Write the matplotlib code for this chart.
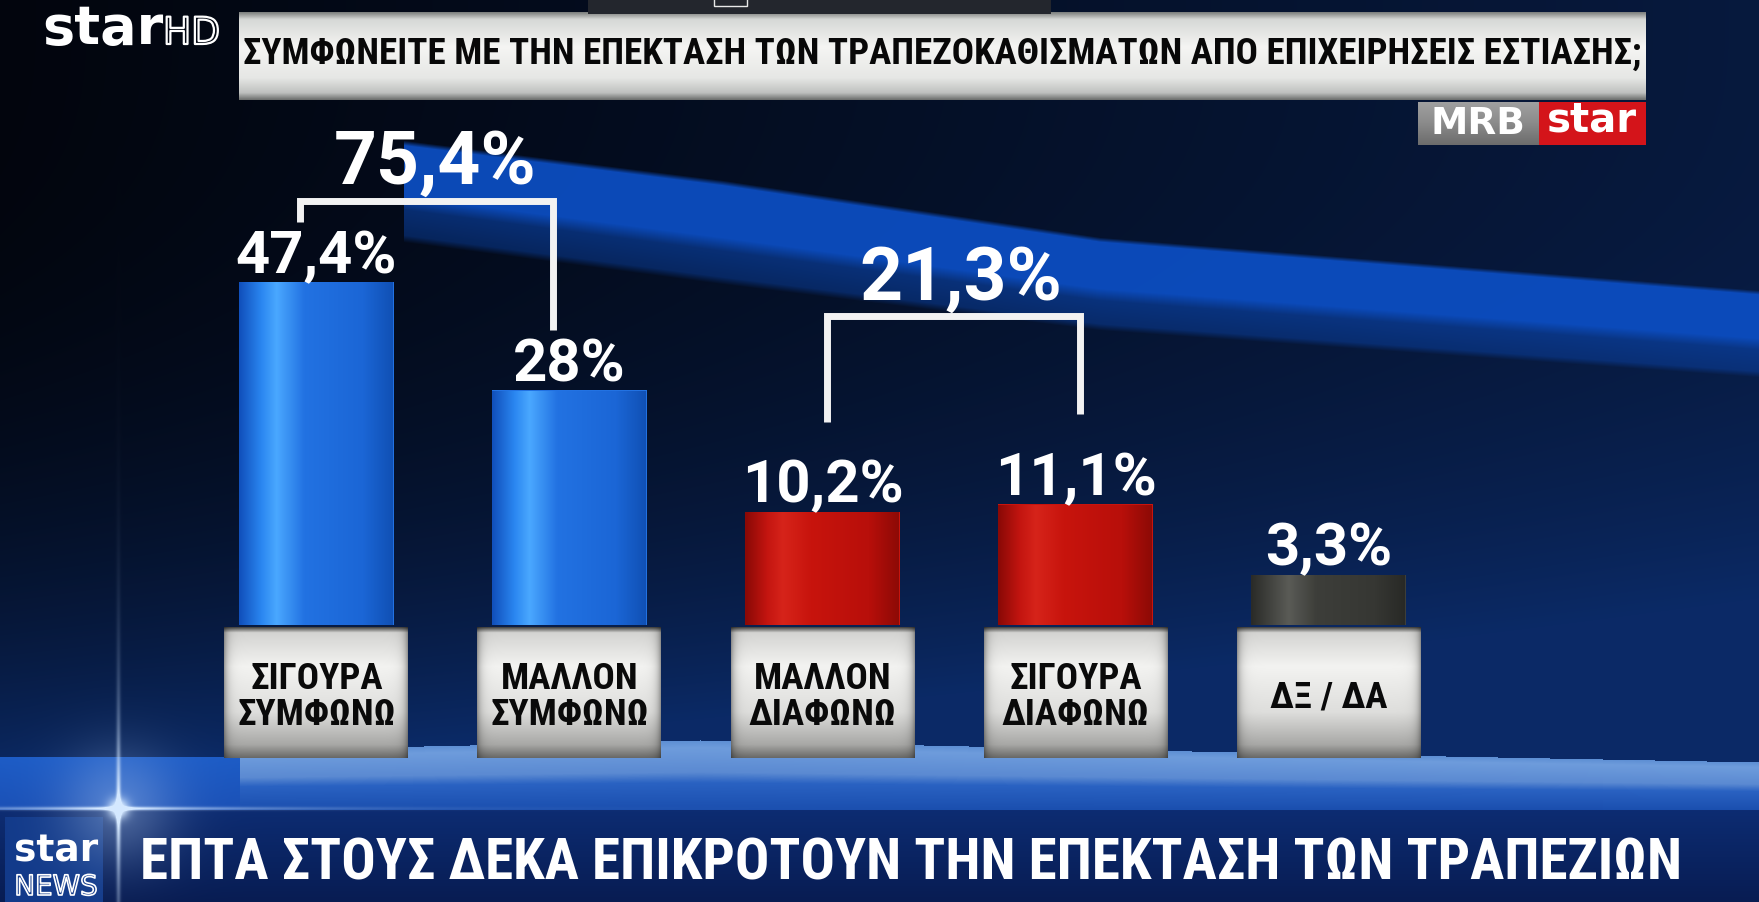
import os
import numpy as np
import matplotlib
matplotlib.use("Agg")
import matplotlib.pyplot as plt
import matplotlib.font_manager as fm
import matplotlib.patheffects as pe
from matplotlib.patches import Rectangle
from matplotlib.colors import to_rgb

# ---------------- data ----------------
categories = ["ΣΙΓΟΥΡΑ\nΣΥΜΦΩΝΩ", "ΜΑΛΛΟΝ\nΣΥΜΦΩΝΩ", "ΜΑΛΛΟΝ\nΔΙΑΦΩΝΩ",
              "ΣΙΓΟΥΡΑ\nΔΙΑΦΩΝΩ", "ΔΞ / ΔΑ"]
values = [47.4, 28.0, 10.2, 11.1, 3.3]
group_members = [[0, 1], [2, 3]]
title_text = ("ΣΥΜΦΩΝΕΙΤΕ ΜΕ ΤΗΝ ΕΠΕΚΤΑΣΗ ΤΩΝ ΤΡΑΠΕΖΟΚΑΘΙΣΜΑΤΩΝ "
              "ΑΠΟ ΕΠΙΧΕΙΡΗΣΕΙΣ ΕΣΤΙΑΣΗΣ;")
ticker_text = "ΕΠΤΑ ΣΤΟΥΣ ΔΕΚΑ ΕΠΙΚΡΟΤΟΥΝ ΤΗΝ ΕΠΕΚΤΑΣΗ ΤΩΝ ΤΡΑΠΕΖΙΩΝ"
source_text = "MRB"
channel_text = "star"

# ---------------- style ----------------
bar_style = ["blue", "blue", "red", "red", "grey"]
palette = {
    "blue": ["#1150bc", "#2a86f0", "#4aa8ff", "#2272e2", "#1b66d6", "#1050b4"],
    "red": ["#8a0906", "#c41510", "#d6241a", "#c8140d", "#b80f0a", "#8c0a06"],
    "grey": ["#2a2b28", "#464743", "#5a5b56", "#3d3e3a", "#363733", "#282926"],
}
bar_stops = [0.0, 0.14, 0.24, 0.42, 0.8, 1.0]

W, H = 1759, 902
DPI = 100


def find_font_file(patterns):
    files = [f.fname for f in fm.fontManager.ttflist]
    for p in patterns:
        for fn in files:
            if p in os.path.basename(fn).lower():
                return fn
    return None


cond_file = find_font_file([
    "notosans-extracondensedbold.", "notosans-extracondensedextrabold.",
    "robotocondensed-bold.", "liberationsansnarrow-bold.",
    "notosans-condensedbold.", "opensans-condensedbold.",
    "dejavusanscondensed-bold.", "dejavusans-boldcondensed",
])
if cond_file:
    COND = fm.FontProperties(fname=cond_file)
else:
    COND = fm.FontProperties(family="DejaVu Sans", weight="bold",
                             stretch="condensed")

NUM = dict(family=["Roboto", "DejaVu Sans"], fontweight="bold")


def hexrgb(c):
    return np.array(to_rgb(c))


def grad1d(colors, stops, n):
    t = np.linspace(0, 1, n)
    cols = np.array([to_rgb(c) for c in colors])
    return np.stack([np.interp(t, stops, cols[:, k]) for k in range(3)], -1)


def fmt(v):
    s = f"{v:.1f}".replace(".", ",")
    if s.endswith(",0"):
        s = s[:-2]
    return s + "%"


fig = plt.figure(figsize=(W / DPI, H / DPI), dpi=DPI)

# ---------------- background image ----------------
bg = fig.add_axes([0, 0, 1, 1], zorder=0)
bg.set_axis_off()
yy, xx = np.mgrid[0:H, 0:W].astype(float)
xcol = np.arange(W, dtype=float)
w = np.clip(0.55 * xx / W + (yy / 780.0) ** 3, 0, 1)
c0, c1 = hexrgb("#02050d"), hexrgb("#0b2a66")
img = c0 + (c1 - c0) * w[..., None]

# diagonal light band
btop = np.interp(xcol, [404, 723, 1100, 1759], [140, 180, 237, 290])
bbot = np.interp(xcol, [404, 723, 1100, 1759], [242, 284, 330, 377])
t = (yy - btop[None, :]) / (bbot - btop)[None, :]
prof = np.interp(t, [-0.01, 0, 0.05, 0.55, 0.68, 0.93, 1.0, 1.01],
                 [0, 0, 1, 1, 0.55, 0.42, 0, 0])
prof[:, :404] = 0
prof *= 0.9
bandc = hexrgb("#0c50c8")
img = img * (1 - prof[..., None]) + bandc * prof[..., None]

# floor
ft = np.interp(xcol, [0, 239, 240, 700, 1236, 1759],
               [757, 757, 750, 740, 752, 762])
s = (yy - ft[None, :]) / (810 - ft)[None, :]
floor_mask = (s >= 0) & (s < 1)
fr = grad1d(["#5e8fd4", "#6e9cdc", "#5b8ad2", "#2a62c2", "#1a4eae"],
            [0, 0.1, 0.45, 0.6, 1.0], 256)
fl = grad1d(["#1d5cc6", "#1a50b6"], [0, 1], 256)
si = np.clip((s * 255).astype(int), 0, 255)
floor_col = np.where((xx < 240)[..., None], fl[si], fr[si])
img = np.where(floor_mask[..., None], floor_col, img)

# ticker band
tk = grad1d(["#0d2c72", "#0a2462", "#081c52"], [0, 0.5, 1], 256)
ti = np.clip(((yy - 810) / (H - 810) * 255).astype(int), 0, 255)
img = np.where((yy >= 810)[..., None], tk[ti], img)
logo_box = (xx >= 5) & (xx < 103) & (yy >= 817)
img = np.where(logo_box[..., None], hexrgb("#123a8a"), img)

# lens flare
r2 = (xx - 118) ** 2 + (yy - 808) ** 2
flare = (0.9 * np.exp(-r2 / (2 * 7 ** 2)) + 0.3 * np.exp(-r2 / (2 * 40 ** 2))
         + 0.85 * np.exp(-((xx - 118) / 2.2) ** 2) * np.exp(-np.abs(yy - 808) / 90)
         + 0.85 * np.exp(-((yy - 808) / 1.8) ** 2) * np.exp(-np.abs(xx - 118) / 140))
flare = np.clip(flare, 0, 1)
img = img * (1 - flare[..., None]) + hexrgb("#d4e8ff") * flare[..., None]

bg.imshow(np.clip(img, 0, 1), extent=(0, W, H, 0), aspect="auto",
          interpolation="bilinear")
bg.set_xlim(0, W)
bg.set_ylim(H, 0)

# ---------------- bar axes ----------------
BAR_BASE_PX, AX_TOP_PX, TALLEST_TOP_PX = 625, 100, 282
AX_LEFT_PX, AX_RIGHT_PX = 190, 1455
ax = fig.add_axes([AX_LEFT_PX / W, (H - BAR_BASE_PX) / H,
                   (AX_RIGHT_PX - AX_LEFT_PX) / W,
                   (BAR_BASE_PX - AX_TOP_PX) / H], zorder=2)
ax.patch.set_alpha(0)
ax.set_axis_off()
P = 0.72
fwd = lambda v: np.sign(v) * np.abs(v) ** P
inv = lambda u: np.sign(u) * np.abs(u) ** (1 / P)
ax.set_yscale("function", functions=(fwd, inv))
xpos = np.arange(len(values))
ymax = float(inv(fwd(max(values)) * (BAR_BASE_PX - AX_TOP_PX)
                 / (BAR_BASE_PX - TALLEST_TOP_PX)))
bars = ax.bar(xpos, values, width=0.61, color=[palette[k][3] for k in bar_style],
              linewidth=0, zorder=2)
for i, p in enumerate(bars.patches):
    g = grad1d(palette[bar_style[i]], bar_stops, 200)[None, :, :]
    im = ax.imshow(g, extent=(p.get_x(), p.get_x() + p.get_width(), 0,
                              p.get_height()),
                   aspect="auto", interpolation="bilinear", zorder=3)
    im.set_clip_path(p)
ax.set_xlim(-0.5, len(values) - 0.5)
ax.set_ylim(0, ymax)


def to_px(x, y):
    dx, dy = ax.transData.transform((x, y))
    return dx, H - dy


# ---------------- foreground axes ----------------
fg = fig.add_axes([0, 0, 1, 1], zorder=3)
fg.patch.set_alpha(0)
fg.set_axis_off()
renderer = fig.canvas.get_renderer()


def fit(tobj, target_w, max_fs):
    bb = tobj.get_window_extent(renderer)
    tobj.set_fontsize(min(tobj.get_fontsize() * target_w / bb.width, max_fs))


# top player bar
fg.add_patch(Rectangle((588, 0), 463, 14, fc="#23262d", ec="none"))
fg.add_patch(Rectangle((714, -2), 33, 8, fc="none", ec="#e8e8e8", lw=1))

# title box
tb = grad1d(["#7d807e", "#d6d8d6", "#f5f5f3", "#e6e7e5", "#bfc1bf", "#6e706e"],
            [0, 0.08, 0.4, 0.75, 0.92, 1.0], 120)[:, None, :]
fg.imshow(tb, extent=(239, 1646, 100, 12), aspect="auto",
          interpolation="bilinear")
tt = fg.text(942, 54, title_text, fontproperties=COND, fontsize=40,
             color="#080808", ha="center", va="center")
fit(tt, 1395, 58)

# MRB / star source badge
mg = grad1d(["#a0a0a0", "#8a8a8a", "#6c6c6c"], [0, 0.5, 1], 60)[:, None, :]
fg.imshow(mg, extent=(1418, 1539, 145, 102), aspect="auto")
fg.add_patch(Rectangle((1539, 102), 107, 43, fc="#d4141a", ec="none"))
fg.text(1478, 124, source_text, color="white", fontsize=27,
        family="DejaVu Sans", fontweight="bold", ha="center", va="center")
fg.text(1592, 121, channel_text, color="white", fontsize=29,
        family="DejaVu Sans", fontweight="bold", ha="center", va="center")

# starHD logo
fg.text(42, 44, "star", color="white", fontsize=39, family="DejaVu Sans",
        fontweight="bold", ha="left", va="baseline")
fg.text(163, 44, "HD", color="none", fontsize=27, family="DejaVu Sans",
        ha="left", va="baseline",
        path_effects=[pe.withStroke(linewidth=1.6, foreground="white")])

# star NEWS logo
fg.text(56, 862, "star", color="white", fontsize=27, family="DejaVu Sans",
        fontweight="bold", ha="center", va="baseline")
fg.text(56, 895, "NEWS", color="none", fontsize=20, family="DejaVu Sans",
        ha="center", va="baseline",
        path_effects=[pe.withStroke(linewidth=1.2, foreground="white")])

# ticker headline
tkt = fg.text(140, 864, ticker_text, fontproperties=COND, fontsize=40,
              color="white", ha="left", va="center")
fit(tkt, 1538, 64)

# category label boxes
BOX_HALF, BOX_TOP, BOX_BOT = 92, 627, 758
vb = grad1d(["#4a4a48", "#d4d4d2", "#f3f3f1", "#dededc", "#a8a8a6", "#6a6a68"],
            [0, 0.04, 0.3, 0.65, 0.9, 1.0], BOX_BOT - BOX_TOP)
hx = np.arange(2 * BOX_HALF)
edge = np.minimum(hx, 2 * BOX_HALF - 1 - hx)
hf = 1 - 0.35 * np.exp(-edge / 4.0)
box_img = np.clip(vb[:, None, :] * hf[None, :, None], 0, 1)
cat_texts = []
for i, lab in enumerate(categories):
    cx, _ = to_px(xpos[i], 0)
    fg.imshow(box_img, extent=(cx - BOX_HALF, cx + BOX_HALF, BOX_BOT, BOX_TOP),
              aspect="auto", interpolation="bilinear")
    ct = fg.text(cx, 697, lab, fontproperties=COND, fontsize=30,
                 color="#0a0a0a", ha="center", va="center", linespacing=1.0)
    cat_texts.append(ct)
fit(cat_texts[0], 158, 44)
for ct in cat_texts[1:]:
    ct.set_fontsize(cat_texts[0].get_fontsize())

# value labels
tops = []
for i, v in enumerate(values):
    cx, ty = to_px(xpos[i], v)
    tops.append((cx, ty))
    fg.text(cx, ty - 9, fmt(v), color="white", fontsize=43, ha="center",
            va="baseline", **NUM)

# group brackets
BRACKET_RISE = [81, 188]
LEG_GAP = [60, 90]
BRACKET_SHIFT = [-16, 4]
for g, members in enumerate(group_members):
    (xl, yl), (xr, yr) = tops[members[0]], tops[members[1]]
    xl += BRACKET_SHIFT[g]
    xr += BRACKET_SHIFT[g]
    level = min(yl, yr) - BRACKET_RISE[g]
    fg.plot([xl, xl, xr, xr], [yl - LEG_GAP[g], level, level, yr - LEG_GAP[g]],
            color="#f2f2f2", lw=5, solid_joinstyle="miter",
            solid_capstyle="butt")
    total = sum(values[m] for m in members)
    fg.text((xl + xr) / 2 + 8, level - 17, fmt(total), color="white",
            fontsize=54, ha="center", va="baseline", **NUM)

fg.set_xlim(0, W)
fg.set_ylim(H, 0)

fig.savefig("out.png", dpi=DPI)
